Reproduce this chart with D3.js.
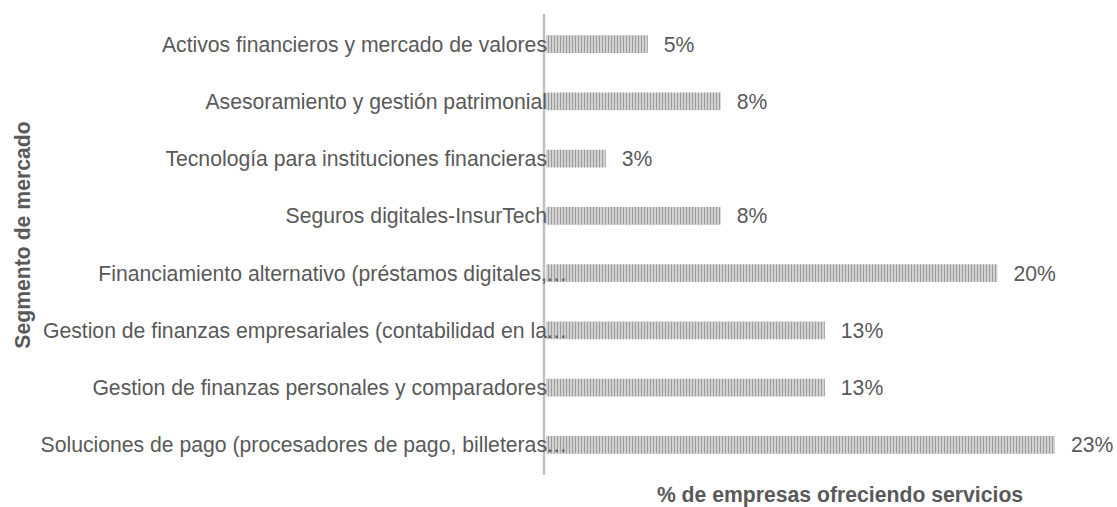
<!DOCTYPE html>
<html>
<head>
<meta charset="utf-8">
<script src="https://cdn.jsdelivr.net/npm/d3@7"></script>
<style>
	body { margin: 0; background: #fff; }
	svg { display: block; }
	text { font-family: "Liberation Sans", Arial, sans-serif; fill: #595959; }
</style>
</head>
<body>
<svg id="chart" width="1117" height="507"></svg>
<script>
// categories from top to bottom
const categories = [
	'Activos financieros y mercado de valores',
	'Asesoramiento y gestión patrimonial',
	'Tecnología para instituciones financieras',
	'Seguros digitales-InsurTech',
	'Financiamiento alternativo (préstamos digitales,…',
	'Gestion de finanzas empresariales (contabilidad en la…',
	'Gestion de finanzas personales y comparadores',
	'Soluciones de pago (procesadores de pago, billeteras…'
];
// % of companies
const values = [4.6, 7.9, 2.7, 7.9, 20.4, 12.6, 12.6, 23.0];

const xTitle = '% de empresas ofreciendo servicios';
const yTitle = 'Segmento de mercado';

const fontSize = '21.2px';
const svg = d3.select('#chart');

const x = d3.scaleLinear()
	.domain([0, 23])
	.range([546, 1055]);

const y = d3.scaleBand()
	.domain(categories)
	.range([15.5, 473.5])
	.paddingInner(0.69)
	.paddingOuter(0.345);

// striped fill like the original
const defs = svg.append('defs');
const pat = defs.append('pattern')
	.attr('id', 'stripes')
	.attr('patternUnits', 'userSpaceOnUse')
	.attr('width', 3)
	.attr('height', 10);
pat.append('rect').attr('width', 3).attr('height', 10).attr('fill', '#d2d2d2');
pat.append('rect').attr('x', 2).attr('width', 1).attr('height', 10).attr('fill', '#9c9c9c');

const bar = svg.selectAll('.bar')
	.data(values).enter().append('g')
	.attr('class', 'bar');

bar.append('rect')
	.attr('x', x(0))
	.attr('y', (d, i) => y(categories[i]))
	.attr('width', d => x(d) - x(0))
	.attr('height', y.bandwidth())
	.attr('fill', 'url(#stripes)');

bar.append('text')
	.attr('x', d => x(d) + 16)
	.attr('y', (d, i) => y(categories[i]) + y.bandwidth() / 2)
	.attr('dy', '0.35em')
	.style('font-size', fontSize)
	.text(d => Math.round(d) + '%');

// vertical axis line
svg.append('line')
	.attr('x1', 544).attr('x2', 544)
	.attr('y1', 14).attr('y2', 475)
	.attr('stroke', '#bfbfbf')
	.attr('stroke-width', 2.5);

// category labels; truncated ones let the ellipsis hang past the label box, like excel
const labelX = 547;
const lab = svg.append('g')
	.selectAll('g')
	.data(categories).enter().append('g')
	.attr('transform', d => 'translate(0,' + (y(d) + y.bandwidth() / 2) + ')');

lab.append('text')
	.attr('x', labelX)
	.attr('dy', '0.35em')
	.attr('text-anchor', 'end')
	.style('font-size', fontSize)
	.text(d => d.replace('…', ''));

lab.filter(d => d.endsWith('…'))
	.append('text')
	.attr('x', labelX - 1)
	.attr('dy', '0.35em')
	.style('font-size', fontSize)
	.text('…');

svg.append('text')
	.attr('x', 840)
	.attr('y', 502)
	.attr('text-anchor', 'middle')
	.style('font-size', fontSize)
	.style('font-weight', 'bold')
	.text(xTitle);

svg.append('text')
	.attr('transform', 'translate(30,235) rotate(-90)')
	.attr('text-anchor', 'middle')
	.style('font-size', fontSize)
	.style('font-weight', 'bold')
	.text(yTitle);
</script>
</body>
</html>
